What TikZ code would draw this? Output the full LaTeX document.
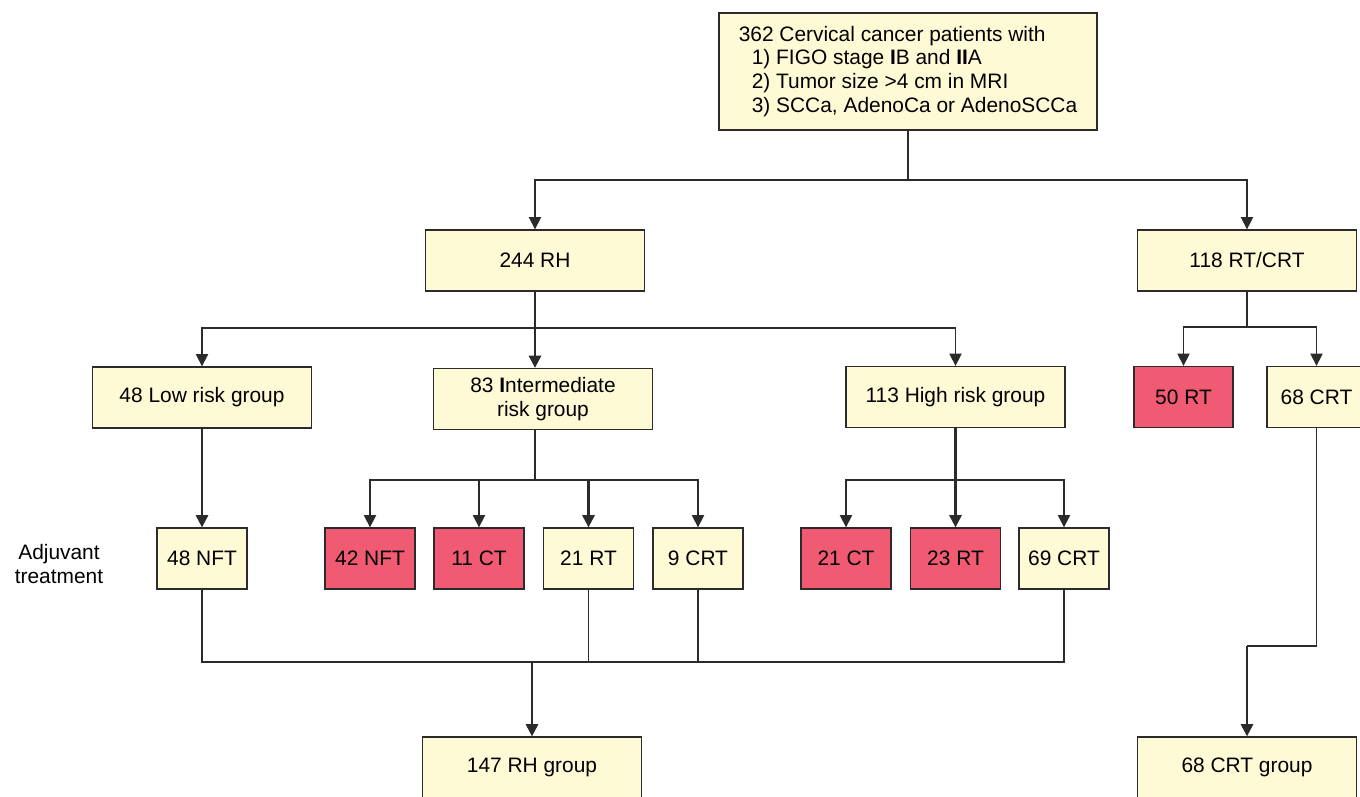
\documentclass[tikz,border=0pt]{standalone}
\usepackage{fontspec}
\setmainfont{Liberation Sans}
\usetikzlibrary{arrows.meta}
\usetikzlibrary{positioning}
\definecolor{paleyellow}{HTML}{FFFAD6}
\definecolor{rosered}{HTML}{F05A73}
\definecolor{inkgrey}{HTML}{2B2B2B}

\begin{document}
\begin{tikzpicture}
		[x=0.02cm,y=-0.02cm,
		 font=\fontsize{11.9}{13.6}\selectfont,
		 group/.style={rectangle,draw=inkgrey,line width=0.75pt,fill=paleyellow,inner sep=0pt,minimum width=4.38cm,minimum height=1.22cm,align=center},
		 treat/.style={group,minimum width=1.8cm},
		 redtreat/.style={treat,fill=rosered},
		 link/.style={draw=inkgrey,line width=0.75pt},
		 flow/.style={->,>={Triangle[width=7pt,length=7pt]},draw=inkgrey,line width=1.3pt},
		 bendflow/.style={flow,line width=0.75pt}]

		\clip (0,0) rectangle (1360,796);

		\node[group,minimum width=7.56cm,minimum height=2.34cm,align=left] (patients) at (908,71.5)
			{362 Cervical cancer patients with\\
			 \hspace*{0.26cm}1) FIGO stage \textbf{I}B and \textbf{II}A\\
			 \hspace*{0.26cm}2) Tumor size >4 cm in MRI\\
			 \hspace*{0.26cm}3) SCCa, AdenoCa or AdenoSCCa};

		\node[group] (RH) at (535,260.5) {244 RH};
		\node[group] (RTCRT) at (1247,260.5) {118 RT/CRT};
		\coordinate (split) at (patients.south |- 0,180);
		\draw[link] (patients.south) -- (split);
		\draw[bendflow] (split) -| (RH.north);
		\draw[bendflow] (split) -| (RTCRT.north);

		\node[group] (low) at (202,397.5) {48 Low risk group};
		\node[group] (inter) at (543,399) {83 \textbf{I}ntermediate\\risk group};
		\node[group] (high) at (955.5,397) {113 High risk group};
		\coordinate (riskSplit) at (RH.south |- 0,328);
		\draw[flow] (RH.south) -- (RH.south |- inter.north);
		\draw[bendflow] (riskSplit) -| (low.north);
		\draw[bendflow] (riskSplit) -| (high.north);

		\node[redtreat,minimum width=1.98cm] (RT50) at (1183.5,397) {50 RT};
		\node[treat,minimum width=1.98cm] (CRT68) at (1316.5,397) {68 CRT};
		\coordinate (rtSplit) at (RTCRT.south |- 0,327);
		\draw[link] (RTCRT.south) -- (rtSplit);
		\draw[bendflow] (rtSplit) -| (RT50.north);
		\draw[bendflow] (rtSplit) -| (CRT68.north);

		% adjuvant treatment row
		\node[align=center] (adjuvant) at (59,564) {Adjuvant\\treatment};
		\node[treat] (NFT48) at (202,558.5) {48 NFT};
		\node[redtreat] (NFT42) at (370,558.5) {42 NFT};
		\node[redtreat] (CT11) at (479,558.5) {11 CT};
		\node[treat] (RT21) at (588.5,558.5) {21 RT};
		\node[treat] (CRT9) at (698,558.5) {9 CRT};
		\node[redtreat] (CT21) at (846,558.5) {21 CT};
		\node[redtreat] (RT23) at (955.5,558.5) {23 RT};
		\node[treat] (CRT69) at (1064,558.5) {69 CRT};

		\draw[flow] (low.south) -- (NFT48.north);

		\coordinate (interSplit) at (RH.south |- 0,480);
		\draw[link] (RH.south |- inter.south) -- (interSplit);
		\draw[bendflow] (interSplit) -| (NFT42.north);
		\draw[bendflow] (interSplit) -| (CT11.north);
		\draw[flow] (interSplit) -| (RT21.north);
		\draw[bendflow] (interSplit) -| (CRT9.north);

		\coordinate (highSplit) at (high.south |- 0,480);
		\draw[flow] (high.south) -- (RT23.north);
		\draw[bendflow] (highSplit) -| (CT21.north);
		\draw[bendflow] (highSplit) -| (CRT69.north);

		% final groups
		\node[group] (RHgroup) at (532,767.5) {147 RH group};
		\node[group] (CRTgroup) at (1247,767.5) {68 CRT group};

		\coordinate (merge) at (RHgroup.north |- 0,662);
		\draw[link] (NFT48.south) -- (NFT48.south |- merge) -- (CRT69.south |- merge) -- (CRT69.south);
		\draw[link] (RT21.south) -- (RT21.south |- merge);
		\draw[link] (CRT9.south) -- (CRT9.south |- merge);
		\draw[flow] (merge) -- (RHgroup.north);

		\coordinate (crtBend) at (CRTgroup.north |- 0,646);
		\draw[link] (CRT68.south) |- (crtBend);
		\draw[flow] (crtBend) -- (CRTgroup.north);
	\end{tikzpicture}
\end{document}
